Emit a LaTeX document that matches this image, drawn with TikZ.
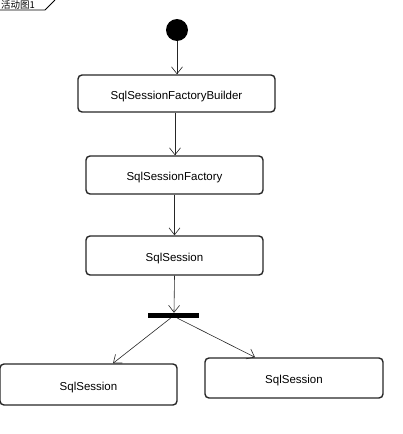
\documentclass[tikz,border=0pt]{standalone}
\usepackage{fontspec}
\setmainfont{Liberation Sans}
\newfontfamily\cjk{Noto Sans CJK SC}
\usetikzlibrary{arrows.meta}
\begin{document}
\begin{tikzpicture}[x=1pt,y=-1pt,
  actbox/.style={draw=black!85,line width=1.4pt,rounded corners=4pt,inner sep=0pt,text height=11pt,text depth=0pt,font=\fontsize{11.5}{13}\selectfont},
  flow/.style={draw=black!85,line width=0.6pt,-{Straight Barb[length=7pt,width=11pt,line width=0.6pt]}},
  ]
\useasboundingbox (0,0) rectangle (402,434);
% frame tab
\draw[line width=0.8pt] (0,10) -- (45,10) -- (55,0);
\node[anchor=base west,inner sep=0pt,font=\cjk\fontsize{9.5}{11}\selectfont] (title) at (1,8.3) {活动图1};
% nodes
\node[circle,fill=black,minimum size=22pt,inner sep=0pt] (init) at (177,30) {};
\node[actbox,minimum width=197pt,minimum height=37pt] (b1) at (176.5,93.5) {SqlSessionFactoryBuilder};
\node[actbox,minimum width=177pt,minimum height=38pt] (b2) at (174.5,175) {SqlSessionFactory};
\node[actbox,minimum width=177pt,minimum height=39pt] (b3) at (174.5,255.5) {SqlSession};
\node[rectangle,fill=black,minimum width=51pt,minimum height=5pt,inner sep=0pt] (bar) at (173.5,315.5) {};
\node[actbox,minimum width=177pt,minimum height=41pt] (l) at (88.5,384.5) {SqlSession};
\node[actbox,minimum width=178pt,minimum height=40pt] (r) at (294,378) {SqlSession};
% connectors
\draw[flow] (init.south) -- (init.south |- b1.north);
\draw[flow] ([xshift=-1.5pt]b1.south) -- ([xshift=0.5pt]b2.north);
\draw[flow] (b2.south) -- (b3.north);
\draw[flow] (b3.south) -- ([xshift=0.5pt]bar.north);
\draw[flow] ([xshift=-3pt]bar.south) -- ([xshift=24.5pt]l.north);
\draw[flow] ([xshift=4pt]bar.south) -- ([xshift=-39pt]r.north);
\end{tikzpicture}
\end{document}
